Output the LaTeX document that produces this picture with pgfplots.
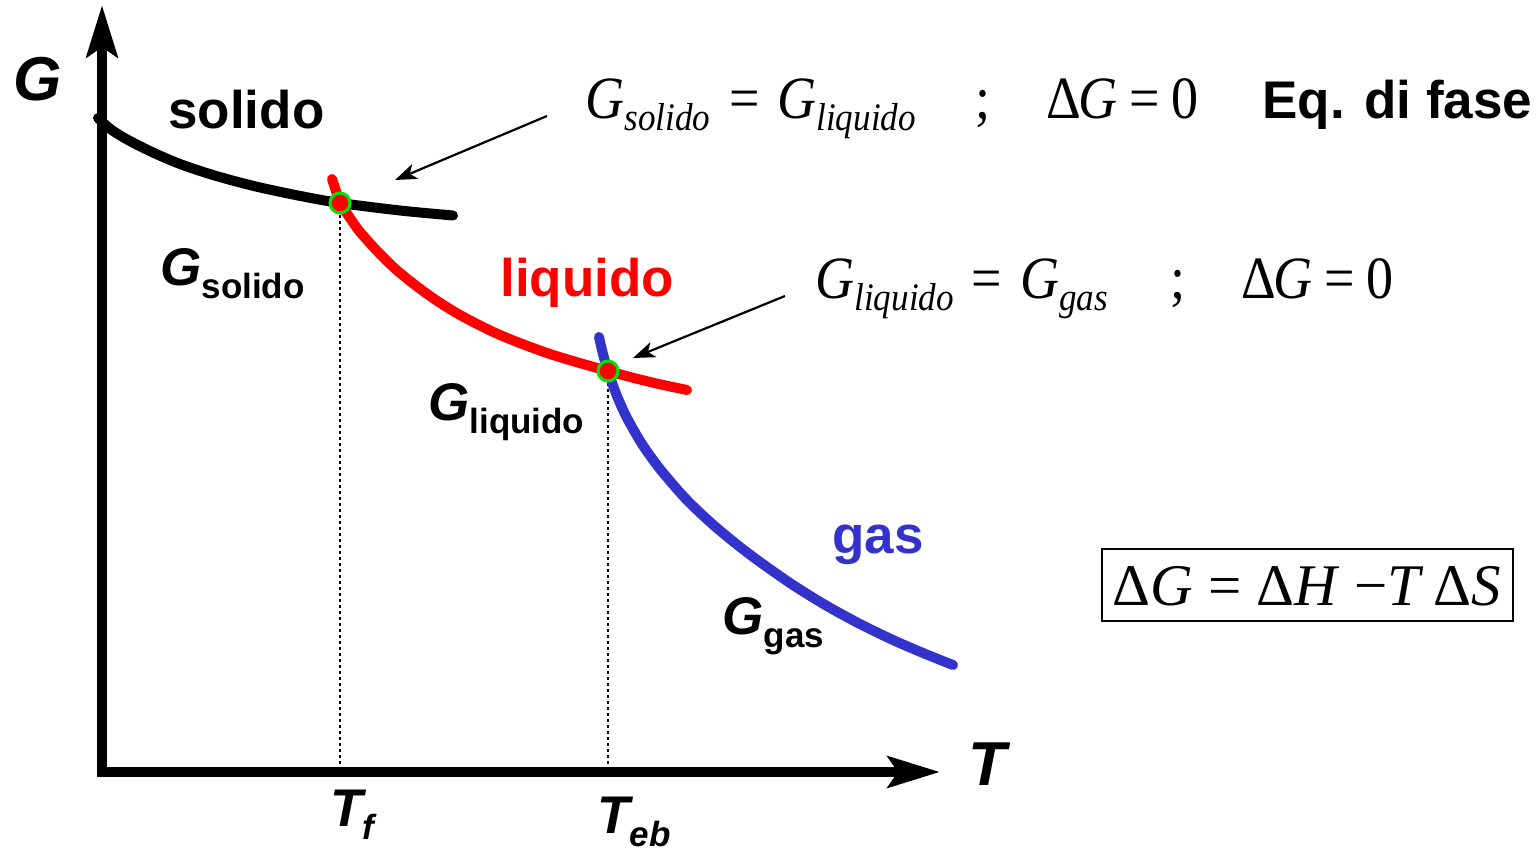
\documentclass[border=0pt]{standalone}
\usepackage{graphicx}
\usepackage{pgfplots}
\pgfplotsset{compat=1.18}
\usetikzlibrary{arrows.meta}
\usepackage{fontspec}
\setmainfont{Liberation Sans}
\newfontfamily\tms{Liberation Serif}

\definecolor{gasblue}{RGB}{51,51,204}
\definecolor{ptgreen}{RGB}{0,230,0}

% bold sans labels
\newcommand{\sansbig}{\fontsize{26.5}{30}\selectfont\bfseries}
\newcommand{\sanssub}{\fontsize{17.5}{20}\selectfont\bfseries}
\newcommand{\SubLab}[2]{{\sansbig\itshape #1}\raisebox{-6.5pt}{\sanssub #2}}
% serif equations (slightly condensed)
\newcommand{\Teq}[1]{\scalebox{0.9}[1]{\tms\fontsize{30}{34}\selectfont #1}}
\newcommand{\Tsub}[1]{\raisebox{-6pt}{\fontsize{19.5}{22}\selectfont\itshape #1}}

\begin{document}
\begin{tikzpicture}
\begin{axis}[
  scale only axis, width=769.5pt, height=425.5pt,
  xmin=0, xmax=1539, ymin=0, ymax=851, y dir=reverse,
  enlargelimits=false, hide axis, clip=false]

% frame of the drawing
\path (axis cs:0,0) rectangle (axis cs:1539,851);

% reference lines at the transition temperatures
\addplot[black, line width=1pt, dash pattern=on 1.5pt off 1.5pt] coordinates {(340,203) (340,768)};
\addplot[black, line width=1pt, dash pattern=on 1.5pt off 1.5pt] coordinates {(608,371) (608,768)};

% axes
\addplot[black, line width=5pt, -{Stealth[length=26pt, width=15.5pt, inset=5pt]}] coordinates {(102,776) (102,5)};
\addplot[black, line width=5pt, -{Stealth[length=26pt, width=15.5pt, inset=5pt]}] coordinates {(97,772) (940,772)};

% G of the solid
\addplot[black, line width=5pt, line cap=round, smooth] coordinates {
  (98,118) (110,128.7) (125,138.3) (150,151.1) (180,164) (215,175.6)
  (255,186.3) (300,195.9) (340,203) (400,210.5) (453,215.5)};

% G of the liquid
\addplot[red, line width=5pt, line cap=round, smooth] coordinates {
  (332,179) (336,191) (340,203) (350,218) (360,232) (380,254) (400,273)
  (430,296) (460,315) (500,335) (550,354) (608,371) (650,382) (687,390)};

% G of the gas
\addplot[gasblue, line width=5pt, line cap=round, smooth] coordinates {
  (599,337) (603,354) (608,371) (617,396) (627,418) (642,444) (660,469)
  (685,498) (710,522) (735,543) (760,562) (793,585) (827,606) (860,624)
  (893,640) (923,653) (953,665)};

% equilibrium points
\addplot[only marks, mark=*, mark size=5pt,
  mark options={fill=red, draw=ptgreen, line width=1.5pt}] coordinates {(340,203) (608,371)};

% pointers
\draw[black, line width=1.1pt, -{Stealth[length=11pt, width=8pt, inset=3pt]}] (axis cs:547,116) -- (axis cs:395,180);
\draw[black, line width=1.1pt, -{Stealth[length=11pt, width=8pt, inset=3pt]}] (axis cs:785,296) -- (axis cs:633,358);

% axis labels
\node[anchor=base west, inner sep=0] at (axis cs:13,100) {\fontsize{31}{34}\selectfont\bfseries\itshape G};
\node[anchor=base west, inner sep=0] at (axis cs:968,785) {\fontsize{31}{34}\selectfont\bfseries\itshape T};
\node[anchor=base west, inner sep=0] at (axis cs:330,826) {\SubLab{T}{\itshape f}};
\node[anchor=base west, inner sep=0] at (axis cs:597,833) {\SubLab{T}{\itshape eb}};

% phase names
\node[anchor=base west, inner sep=0] at (axis cs:168,128) {\sansbig solido};
\node[anchor=base west, inner sep=0, text=red] at (axis cs:500,296) {\sansbig liquido};
\node[anchor=base west, inner sep=0, text=gasblue] at (axis cs:832,553) {\sansbig gas};
\node[anchor=base west, inner sep=0] at (axis cs:160,285) {\SubLab{G}{solido}};
\node[anchor=base west, inner sep=0] at (axis cs:428,420) {\SubLab{G}{liquido}};
\node[anchor=base west, inner sep=0] at (axis cs:722,634) {\SubLab{G}{gas}};

% first equilibrium condition
\node[anchor=base west, inner sep=0] at (axis cs:585,118) {\Teq{\itshape G\Tsub{solido}}};
\node[anchor=base, inner sep=0] at (axis cs:745,118) {\Teq{=}};
\node[anchor=base west, inner sep=0] at (axis cs:777,118) {\Teq{\itshape G\Tsub{liquido}}};
\node[anchor=base, inner sep=0] at (axis cs:983,118) {\Teq{;}};
\node[anchor=base west, inner sep=0] at (axis cs:1046,118) {\Teq{Δ}};
\node[anchor=base west, inner sep=0] at (axis cs:1078,118) {\Teq{\itshape G}};
\node[anchor=base, inner sep=0] at (axis cs:1145,118) {\Teq{=}};
\node[anchor=base, inner sep=0] at (axis cs:1185,118) {\Teq{0}};
\node[anchor=base west, inner sep=0] at (axis cs:1262,118) {\sansbig Eq. di fase};

% second equilibrium condition
\node[anchor=base west, inner sep=0] at (axis cs:815,298) {\Teq{\itshape G\Tsub{liquido}}};
\node[anchor=base, inner sep=0] at (axis cs:987,298) {\Teq{=}};
\node[anchor=base west, inner sep=0] at (axis cs:1020,298) {\Teq{\itshape G\Tsub{gas}}};
\node[anchor=base, inner sep=0] at (axis cs:1178,298) {\Teq{;}};
\node[anchor=base west, inner sep=0] at (axis cs:1241,298) {\Teq{Δ}};
\node[anchor=base west, inner sep=0] at (axis cs:1273,298) {\Teq{\itshape G}};
\node[anchor=base, inner sep=0] at (axis cs:1340,298) {\Teq{=}};
\node[anchor=base, inner sep=0] at (axis cs:1380,298) {\Teq{0}};

% Gibbs relation
\draw[black, line width=1pt] (axis cs:1102,549) rectangle (axis cs:1513,621);
\node[anchor=base, inner sep=0] at (axis cs:1307,605)
  {\tms\fontsize{29.5}{33}\selectfont Δ\textit{G} = Δ\textit{H} −\textit{T}\,Δ\textit{S}};

\end{axis}
\end{tikzpicture}
\end{document}
